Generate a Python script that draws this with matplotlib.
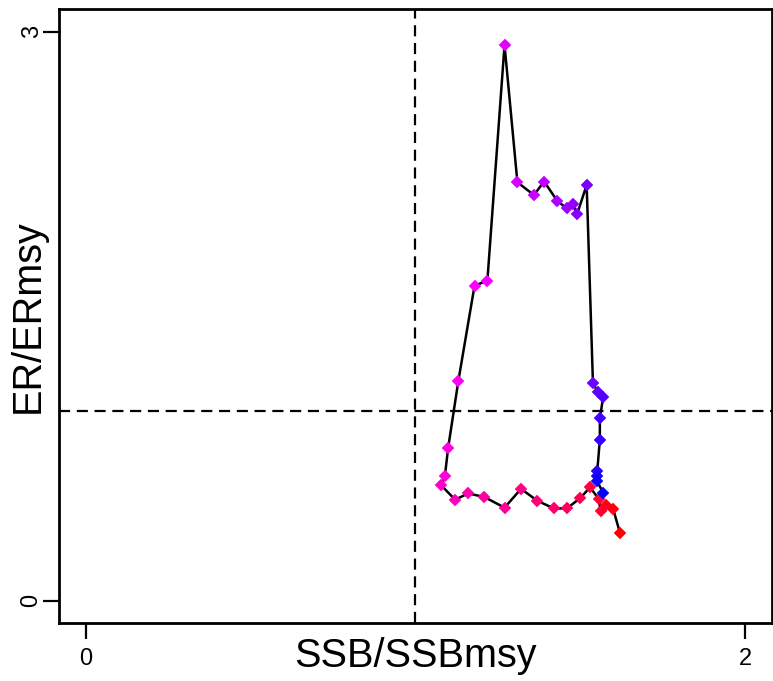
import matplotlib
matplotlib.use("Agg")
import matplotlib.pyplot as plt
import numpy as np
from matplotlib.colors import LinearSegmentedColormap

plt.rcParams['font.family'] = ['Liberation Sans', 'DejaVu Sans']

ssb = [1.620, 1.599, 1.578, 1.561, 1.556, 1.529, 1.500, 1.459, 1.419, 1.369,
       1.320, 1.270, 1.209, 1.160, 1.120, 1.078, 1.089, 1.099, 1.130, 1.179,
       1.218, 1.270, 1.309, 1.359, 1.390, 1.430, 1.458, 1.478, 1.490, 1.519,
       1.538, 1.553, 1.569, 1.559, 1.559, 1.551, 1.551, 1.551, 1.569]
er = [0.357, 0.485, 0.502, 0.471, 0.536, 0.597, 0.541, 0.486, 0.486, 0.527,
      0.589, 0.490, 0.546, 0.565, 0.532, 0.608, 0.655, 0.805, 1.159, 1.660,
      1.688, 2.930, 2.206, 2.139, 2.210, 2.108, 2.069, 2.092, 2.038, 2.192,
      1.150, 1.098, 1.071, 0.963, 0.848, 0.681, 0.655, 0.629, 0.568]

x_ticks = [0, 2]
y_ticks = [0, 3]

fig = plt.figure(figsize=(7.73, 6.81), dpi=100)
ax = fig.add_axes([0.0767, 0.0847, 0.9983 - 0.0767, 0.9868 - 0.0847])

ax.axvline(1, color='black', lw=1.6, ls=(0, (5, 3)), zorder=1)
ax.axhline(1, color='black', lw=1.6, ls=(0, (5, 3)), zorder=1)

ax.plot(ssb, er, color='black', lw=1.8, zorder=2)
cmap = LinearSegmentedColormap.from_list('rmb', ['#FF0000', '#FF00FF', '#0000FF'])
n = len(ssb)
cols = [cmap(i / (n - 1)) for i in range(n)]
for i in range(n):
    ax.plot(ssb[i], er[i], marker='D', ms=6.4, color=cols[i], mec=cols[i], mew=0.3,
            ls='none', zorder=3)

ax.set_xlim(-0.08, 2.08)
ax.set_ylim(-0.12, 3.12)
ax.set_xticks(x_ticks)
ax.set_yticks(y_ticks)
ax.set_xticklabels([str(t) for t in x_ticks], fontsize=17)
ax.set_yticklabels([str(t) for t in y_ticks], fontsize=17, rotation=90, va='center')
ax.tick_params(axis='both', length=11.5, width=1.6, direction='out')
ax.tick_params(axis='x', pad=6)
ax.tick_params(axis='y', pad=0.5)
for s in ax.spines.values():
    s.set_linewidth(2.0)

ax.set_xlabel('SSB/SSBmsy', fontsize=28.5)
ax.set_ylabel('ER/ERmsy', fontsize=28.5)
ax.xaxis.set_label_coords(0.5, -0.022)
ax.yaxis.set_label_coords(-0.018, 0.5)

fig.savefig('out.png', dpi=100)
